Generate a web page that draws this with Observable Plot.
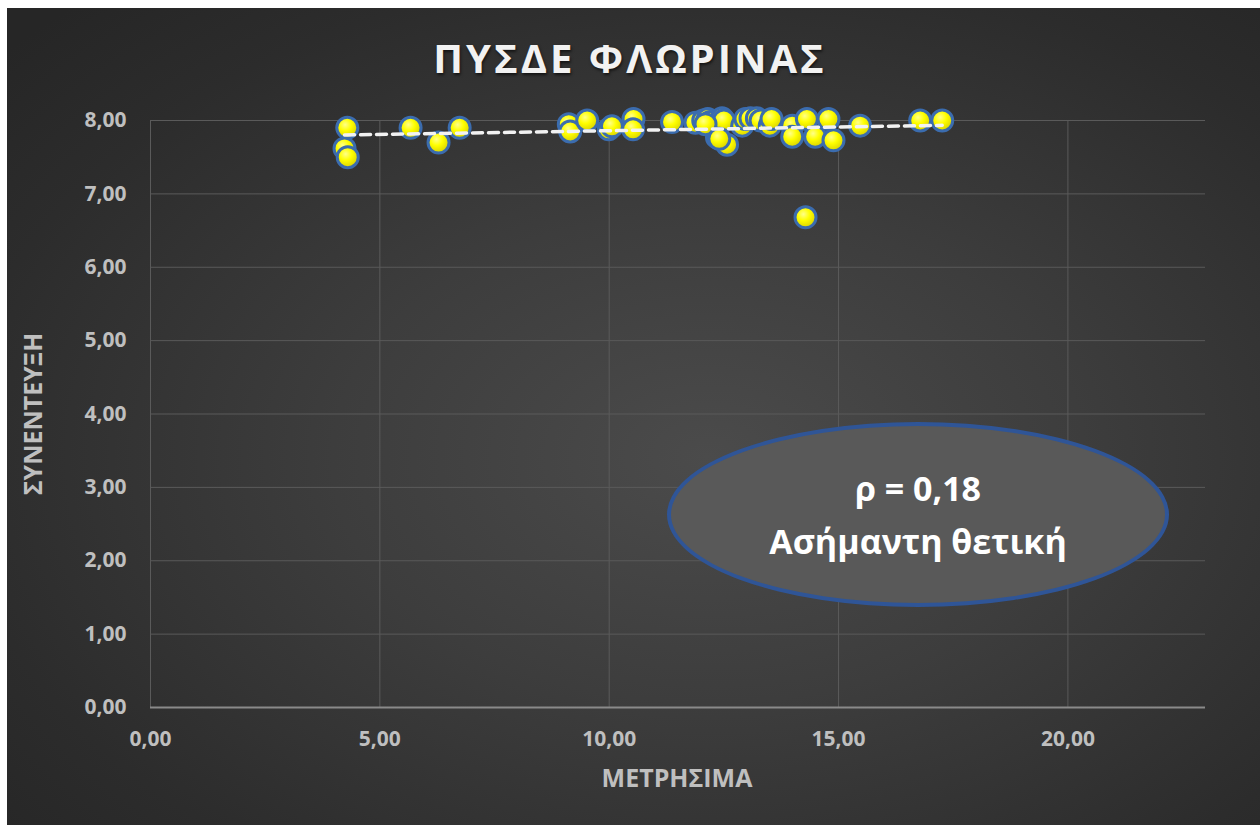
<!DOCTYPE html>
<html>
<head>
<meta charset="utf-8">
<script src="https://cdn.jsdelivr.net/npm/d3@7"></script>
<script src="https://cdn.jsdelivr.net/npm/@observablehq/plot@0.6"></script>
<style>
  html, body { margin: 0; padding: 0; background: #ffffff; }
  #page { position: relative; width: 1260px; height: 825px; overflow: hidden; background: #ffffff; font-family: "Open Sans", "Noto Sans", sans-serif; }
  #bg { position: absolute; left: 7px; top: 8px; right: 0; bottom: 0;
        background: radial-gradient(ellipse 75% 75% at 56% 55%, #4b4b4b 0%, #3d3d3d 40%, #2c2c2c 80%, #262626 100%); }
  #chart { position: absolute; left: 0; top: 0; }
  #title { position: absolute; left: 0; width: 1260px; top: 30px; text-align: center; font-size: 40px; font-weight: 700; letter-spacing: 3px; color: #f2f2f2; text-shadow: 1px 2px 3px rgba(0,0,0,0.6); }
  #xlabel { position: absolute; left: 527px; width: 300px; top: 760px; text-align: center; font-size: 25px; font-weight: 700; color: #bfbfbf; }
  #ylabel { position: absolute; left: 32px; top: 414px; transform: translate(-50%, -50%) rotate(-90deg); white-space: nowrap; font-size: 25px; font-weight: 700; color: #bfbfbf; }
  #note { position: absolute; left: 667px; top: 422px; width: 502px; height: 185px; box-sizing: border-box; border: 4px solid #2f5597; border-radius: 50%; background: #595959;
          display: flex; flex-direction: column; align-items: center; justify-content: center; color: #ffffff; font-size: 34px; font-weight: 700; line-height: 53px; }
</style>
</head>
<body>
<svg width="0" height="0" style="position:absolute">
  <defs>
    <radialGradient id="dotGrad" cx="40%" cy="35%" r="65%">
      <stop offset="0%" stop-color="#ffff8a"/>
      <stop offset="45%" stop-color="#ffff00"/>
      <stop offset="100%" stop-color="#d9d300"/>
    </radialGradient>
  </defs>
</svg>
<div id="page">
  <div id="bg"></div>
  <div id="chart"></div>
  <div id="title">ΠΥΣΔΕ ΦΛΩΡΙΝΑΣ</div>
  <div id="xlabel">ΜΕΤΡΗΣΙΜΑ</div>
  <div id="ylabel">ΣΥΝΕΝΤΕΥΞΗ</div>
  <div id="note"><div>ρ = 0,18</div><div>Ασήμαντη θετική</div></div>
</div>
<script>
// Data
const metrhsima = [4.29, 4.23, 4.30, 5.67, 6.28, 6.74, 9.12, 9.15, 9.52, 9.99, 10.06, 10.53, 10.52, 11.37, 11.88,
                   12.05, 12.15, 12.20, 12.35, 12.46, 12.50, 12.57, 12.90, 12.97, 13.08, 13.22, 13.30, 13.50, 13.54,
                   13.99, 13.99, 14.31, 14.49, 14.78, 14.89, 15.47, 16.78, 17.26, 14.28, 12.10, 12.40];
const synenteuxi = [7.90, 7.62, 7.50, 7.90, 7.70, 7.90, 7.95, 7.85, 8.00, 7.88, 7.92, 8.02, 7.88, 7.98, 7.97,
                    8.00, 8.02, 7.98, 7.77, 8.03, 8.00, 7.67, 7.93, 8.02, 8.03, 8.03, 8.00, 7.93, 8.02,
                    7.93, 7.78, 8.02, 7.78, 8.02, 7.73, 7.93, 8.00, 8.00, 6.68, 7.95, 7.75];
const xTicks = [0, 5, 10, 15, 20];
const yTicks = [0, 1, 2, 3, 4, 5, 6, 7, 8];

const points = metrhsima.map((x, i) => ({x, y: synenteuxi[i]}));
const fmt = d => d.toFixed(2).replace(".", ",");

const chart = Plot.plot({
  width: 1260,
  height: 825,
  marginLeft: 150,
  marginRight: 55,
  marginTop: 120,
  marginBottom: 118,
  style: {background: "transparent", color: "#bfbfbf", fontSize: "21px", fontWeight: "700", fontFamily: "'Open Sans', 'Noto Sans', sans-serif"},
  x: {domain: [0, 23], ticks: xTicks, tickFormat: fmt, tickSize: 0, tickPadding: 24, label: null},
  y: {domain: [0, 8], ticks: yTicks, tickFormat: fmt, tickSize: 0, tickPadding: 24, label: null},
  marks: [
    Plot.ruleX(xTicks, {stroke: "#5a5a5a", strokeWidth: 1}),
    Plot.ruleY(yTicks.filter(d => d > 0), {stroke: "#5a5a5a", strokeWidth: 1}),
    Plot.ruleY([0], {stroke: "#8a8a8a", strokeWidth: 2}),
    Plot.dot(points, {x: "x", y: "y", r: 10.5, fill: "url(#dotGrad)", stroke: "#3b6cae", strokeWidth: 3}),
    Plot.linearRegressionY(points, {x: "x", y: "y", ci: 0, stroke: "#f2f2f2", strokeWidth: 3.5, strokeDasharray: "10,6"})
  ]
});
document.getElementById("chart").appendChild(chart);
</script>
</body>
</html>
